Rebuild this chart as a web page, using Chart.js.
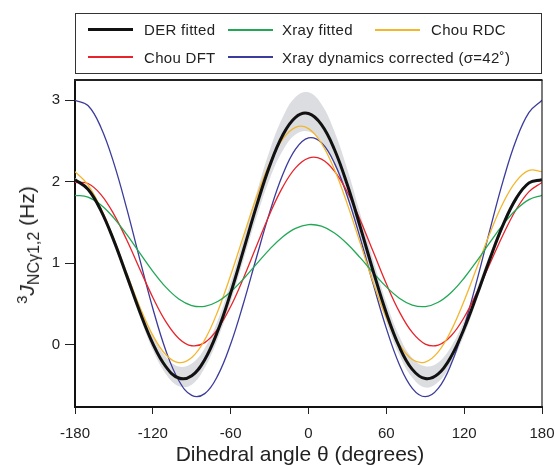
<!DOCTYPE html>
<html><head><meta charset="utf-8">
<script src="https://cdn.jsdelivr.net/npm/chart.js"></script>
<style>
body{margin:0;background:#fff;}
#wrap{position:relative;width:555px;height:465px;overflow:hidden;font-family:"Liberation Sans",Arial,sans-serif;color:#222;}
canvas{position:absolute;left:0;top:0;}
.box{position:absolute;left:75px;top:13px;width:467px;height:61px;box-sizing:border-box;border:1.5px solid #333;}
.sw{position:absolute;}
.lt{position:absolute;font-size:15px;line-height:16px;white-space:nowrap;letter-spacing:0.3px;}
#ytitle{position:absolute;left:28px;top:245px;transform:translate(-50%,-50%) rotate(-90deg);font-size:21px;white-space:nowrap;line-height:24px;}
#ytitle sup{font-size:15px;vertical-align:7px;}
#ytitle sub{font-size:16px;vertical-align:-5px;}
#xtitle{position:absolute;left:300px;top:444px;transform:translateX(-50%);font-size:21px;line-height:20px;white-space:nowrap;}
</style></head>
<body>
<div id="wrap">
<canvas id="c" width="555" height="465"></canvas>
<div class="box"></div>
<div class="sw" style="left:88px;top:28px;width:45px;height:3px;background:#111;"></div>
<div class="lt" style="left:144px;top:22px;">DER fitted</div>
<div class="sw" style="left:228px;top:29px;width:45px;height:1.5px;background:#22a855;"></div>
<div class="lt" style="left:282px;top:22px;">Xray fitted</div>
<div class="sw" style="left:375px;top:29px;width:45px;height:1.5px;background:#f4b62c;"></div>
<div class="lt" style="left:431px;top:22px;">Chou RDC</div>
<div class="sw" style="left:88px;top:56px;width:45px;height:1.5px;background:#e8232b;"></div>
<div class="lt" style="left:144px;top:49.5px;">Chou DFT</div>
<div class="sw" style="left:228px;top:56px;width:45px;height:1.5px;background:#3b3b9c;"></div>
<div class="lt" style="left:282px;top:49.5px;">Xray dynamics corrected (σ=42˚)</div>
<div id="ytitle"><sup>3</sup><i>J</i><sub>NCγ1,2</sub> (Hz)</div>
<div id="xtitle">Dihedral angle θ (degrees)</div>
</div>
<script>
const angles = [-180,-170,-160,-150,-140,-130,-120,-110,-100,-90,-80,-70,-60,-50,-40,-30,-20,-10,0,10,20,30,40,50,60,70,80,90,100,110,120,130,140,150,160,170,180];
const derFitted = [2.025,1.907,1.646,1.275,0.843,0.404,0.017,-0.265,-0.405,-0.377,-0.180,0.170,0.636,1.168,1.706,2.190,2.565,2.788,2.834,2.698,2.394,1.958,1.440,0.897,0.392,-0.022,-0.299,-0.412,-0.355,-0.140,0.201,0.620,1.063,1.471,1.792,1.985,2.025];
const xrayFitted = [1.833,1.810,1.714,1.554,1.350,1.124,0.902,0.708,0.563,0.483,0.473,0.532,0.651,0.811,0.993,1.171,1.323,1.428,1.474,1.454,1.371,1.236,1.066,0.883,0.711,0.573,0.489,0.470,0.523,0.643,0.820,1.033,1.260,1.476,1.657,1.780,1.833];
const chouRDC = [2.123,1.961,1.672,1.294,0.873,0.463,0.117,-0.120,-0.216,-0.154,0.062,0.411,0.853,1.339,1.814,2.223,2.519,2.666,2.650,2.470,2.149,1.722,1.241,0.759,0.332,0.008,-0.179,-0.209,-0.084,0.178,0.541,0.958,1.375,1.739,2.004,2.138,2.123];
const chouDFT = [1.990,1.977,1.842,1.600,1.282,0.928,0.582,0.286,0.080,-0.010,0.029,0.195,0.471,0.824,1.216,1.599,1.930,2.169,2.289,2.276,2.130,1.870,1.525,1.137,0.749,0.408,0.153,0.011,-0.002,0.113,0.339,0.648,1.000,1.350,1.656,1.878,1.990];
const xrayDynamics = [2.996,2.932,2.664,2.224,1.663,1.046,0.447,-0.067,-0.435,-0.618,-0.596,-0.376,0.011,0.517,1.077,1.620,2.080,2.398,2.536,2.476,2.227,1.818,1.300,0.738,0.203,-0.239,-0.531,-0.634,-0.532,-0.234,0.227,0.800,1.419,2.010,2.506,2.848,2.996];
const derUpper = [2.045,1.927,1.676,1.315,0.903,0.484,0.117,-0.145,-0.265,-0.227,-0.040,0.300,0.766,1.308,1.866,2.380,2.785,3.038,3.094,2.948,2.614,2.148,1.600,1.037,0.522,0.108,-0.159,-0.262,-0.215,-0.020,0.301,0.700,1.123,1.511,1.822,2.005,2.045];
const derLower = [2.005,1.887,1.616,1.235,0.793,0.344,-0.063,-0.355,-0.505,-0.487,-0.280,0.070,0.526,1.048,1.566,2.030,2.375,2.578,2.614,2.488,2.204,1.798,1.300,0.777,0.282,-0.122,-0.399,-0.522,-0.455,-0.230,0.121,0.560,1.013,1.431,1.762,1.965,2.005];
const xTicks = [-180,-120,-60,0,60,120,180];
const yTicks = [0,1,2,3];

const pts = arr => arr.map((v,i)=>({x:angles[i],y:v}));
Chart.defaults.font.family = "'Liberation Sans', Arial, sans-serif";

const framePlugin = {
  id:'frame',
  afterDraw(chart){
    const a = chart.chartArea, c = chart.ctx;
    c.save();
    c.strokeStyle = '#222';
    c.lineWidth = 2;
    c.beginPath(); c.moveTo(a.left-1, a.top); c.lineTo(a.right+0.5, a.top); c.stroke();
    c.lineWidth = 1.2;
    c.beginPath(); c.moveTo(a.right, a.top); c.lineTo(a.right, a.bottom); c.stroke();
    c.restore();
  }
};

new Chart(document.getElementById('c'), {
  type:'line',
  data:{datasets:[
    {label:'DER fitted', data:pts(derFitted), borderColor:'#111', borderWidth:3, order:0},
    {label:'Xray fitted', data:pts(xrayFitted), borderColor:'#22a855', borderWidth:1.3, order:1},
    {label:'Chou RDC', data:pts(chouRDC), borderColor:'#f4b62c', borderWidth:1.3, order:2},
    {label:'Chou DFT', data:pts(chouDFT), borderColor:'#e8232b', borderWidth:1.3, order:3},
    {label:'Xray dynamics corrected', data:pts(xrayDynamics), borderColor:'#3b3b9c', borderWidth:1.3, order:4},
    {label:'upper', data:pts(derUpper), borderColor:'rgba(0,0,0,0)', borderWidth:0, backgroundColor:'rgb(220,221,225)', fill:'+1', order:10},
    {label:'lower', data:pts(derLower), borderColor:'rgba(0,0,0,0)', borderWidth:0, fill:false, order:11}
  ]},
  options:{
    responsive:false, animation:false, devicePixelRatio:1,
    layout:{padding:{left:0,top:80,right:13,bottom:0}},
    plugins:{legend:{display:false}, tooltip:{enabled:false}},
    elements:{point:{radius:0}, line:{tension:0.4}},
    scales:{
      x:{type:'linear', min:-180, max:180,
        afterBuildTicks(s){ s.ticks = xTicks.map(v=>({value:v})); },
        ticks:{color:'#222', font:{size:15}, padding:11, maxRotation:0, autoSkip:false},
        grid:{drawOnChartArea:false, drawTicks:true, tickLength:7, tickColor:'#222', tickWidth:1},
        border:{display:true, color:'#111', width:2},
        afterFit(s){ s.height = 58; s.paddingLeft = 0; s.paddingRight = 0; }
      },
      y:{type:'linear', min:-0.76, max:3.245,
        afterBuildTicks(s){ s.ticks = yTicks.map(v=>({value:v})); },
        ticks:{color:'#222', font:{size:15}, padding:5},
        grid:{drawOnChartArea:false, drawTicks:true, tickLength:10, tickColor:'#222', tickWidth:1},
        border:{display:true, color:'#111', width:2},
        afterFit(s){ s.width = 75; s.paddingTop = 0; s.paddingBottom = 0; }
      }
    }
  },
  plugins:[framePlugin]
});
</script>
</body></html>
